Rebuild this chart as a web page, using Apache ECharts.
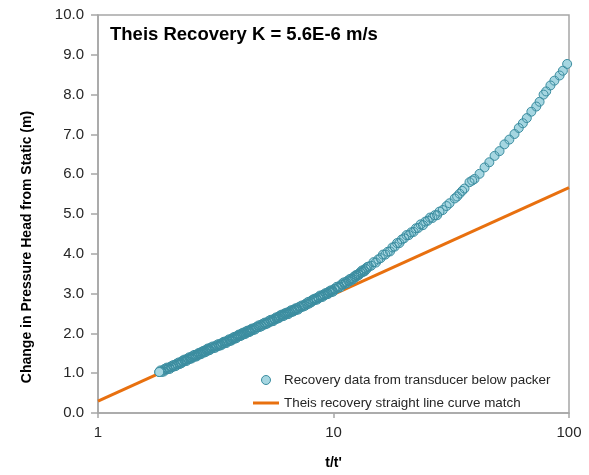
<!DOCTYPE html>
<html>
<head>
<meta charset="utf-8">
<script src="https://cdn.jsdelivr.net/npm/echarts@6/dist/echarts.min.js"></script>
<style>
html,body{margin:0;padding:0;background:#fff;}
#c{width:589px;height:475px;}
</style>
</head>
<body>
<div id="c"></div>
<script>
// t/t' values of the recovery data, ascending
var tRatio = [
  1.82, 1.84, 1.86, 1.88, 1.90, 1.92, 1.94, 1.96, 1.98, 2.00,
  2.02, 2.04, 2.06, 2.08, 2.10, 2.12, 2.14, 2.16, 2.18, 2.20, 2.22, 2.24,
  2.26, 2.28, 2.30, 2.32, 2.34, 2.36, 2.38, 2.40, 2.42, 2.44, 2.46, 2.48, 2.50,
  2.52, 2.54, 2.56, 2.58, 2.60, 2.62, 2.64, 2.66, 2.68, 2.70, 2.72, 2.74,
  2.76, 2.78, 2.80, 2.82, 2.84, 2.86, 2.88, 2.90, 2.92, 2.94, 2.96, 2.98, 3.00,
  3.03, 3.06, 3.09, 3.12, 3.15, 3.18, 3.21, 3.24, 3.27, 3.30, 3.33, 3.36, 3.39, 3.42, 3.45, 3.48,
  3.51, 3.54, 3.57, 3.60, 3.63, 3.66, 3.69, 3.72, 3.75, 3.78, 3.81, 3.84, 3.87, 3.90, 3.93, 3.96, 3.99,
  4.02, 4.05, 4.08, 4.11, 4.14, 4.17, 4.20, 4.23, 4.26, 4.29, 4.32, 4.35, 4.38, 4.41, 4.44, 4.47, 4.50,
  4.55, 4.60, 4.65, 4.70, 4.75, 4.80, 4.85, 4.90, 4.95, 5.00,
  5.05, 5.10, 5.15, 5.20, 5.25, 5.30, 5.35, 5.40, 5.45, 5.50,
  5.55, 5.60, 5.65, 5.70, 5.75, 5.80, 5.85, 5.90, 5.95, 6.00,
  6.05, 6.10, 6.15, 6.20, 6.25, 6.30, 6.35, 6.40, 6.45, 6.50,
  6.55, 6.60, 6.65, 6.70, 6.75, 6.80, 6.85, 6.90, 6.95, 7.00,
  7.08, 7.16, 7.24, 7.32, 7.40, 7.48, 7.56, 7.64, 7.72, 7.80, 7.88, 7.96, 8.04,
  8.12, 8.20, 8.28, 8.36, 8.44, 8.52, 8.60, 8.68, 8.76, 8.84, 8.92, 9.00,
  9.08, 9.16, 9.24, 9.32, 9.40, 9.48, 9.56, 9.64, 9.72, 9.80, 9.88, 9.96,
  10.08, 10.20, 10.32, 10.44, 10.56, 10.68, 10.80, 10.92, 11.04, 11.16, 11.28,
  11.40, 11.52, 11.64, 11.76, 11.88, 12.00, 12.12, 12.24, 12.36, 12.48, 12.60,
  12.72, 12.84, 12.96, 13.08, 13.20, 13.32, 13.44, 13.56, 13.68, 13.80, 13.92,
  14.13, 14.45, 14.79, 15.14, 15.49, 15.85, 16.22, 16.60, 16.98, 17.38, 17.78,
  18.20, 18.62, 19.05, 19.50, 19.95, 20.42, 20.89, 21.38, 21.88, 22.39,
  22.91, 23.44, 23.99, 24.55, 25.12, 25.70, 26.30, 26.92, 27.54, 28.18,
  29.1, 30.2, 31.1, 32.7, 33.5, 34.3, 35.2, 36.0, 37.8, 38.8,
  39.7, 41.7, 43.8, 45.9, 48.3, 50.7, 53.2, 55.8, 58.7, 61.2,
  63.7, 66.2, 69.2, 72.6, 75.0, 78.0, 80.0, 83.4, 86.7, 91.2,
  94.2, 98.2
];
// change in pressure head from static (m), matching tRatio
var headChange = [
  1.03, 1.07, 1.03, 1.07, 1.04, 1.11, 1.09, 1.14, 1.10, 1.14,
  1.11, 1.17, 1.15, 1.20, 1.17, 1.21, 1.18, 1.24, 1.22, 1.27, 1.23, 1.27,
  1.25, 1.31, 1.29, 1.34, 1.30, 1.34, 1.31, 1.37, 1.35, 1.40, 1.36, 1.40, 1.37,
  1.43, 1.41, 1.46, 1.42, 1.45, 1.42, 1.48, 1.46, 1.51, 1.47, 1.51, 1.48,
  1.54, 1.52, 1.56, 1.52, 1.56, 1.53, 1.59, 1.57, 1.62, 1.57, 1.61, 1.58, 1.64,
  1.62, 1.67, 1.63, 1.67, 1.64, 1.70, 1.68, 1.73, 1.69, 1.73, 1.70, 1.76, 1.74, 1.79, 1.75, 1.79,
  1.76, 1.82, 1.80, 1.85, 1.81, 1.85, 1.82, 1.88, 1.86, 1.91, 1.87, 1.91, 1.88, 1.94, 1.92, 1.97, 1.93,
  1.97, 1.94, 2.00, 1.97, 2.02, 1.98, 2.02, 1.99, 2.05, 2.02, 2.07, 2.03, 2.07, 2.04, 2.09, 2.07, 2.12,
  2.08, 2.13, 2.10, 2.16, 2.15, 2.20, 2.16, 2.21, 2.18, 2.24,
  2.22, 2.27, 2.23, 2.27, 2.25, 2.31, 2.29, 2.34, 2.30, 2.34,
  2.31, 2.37, 2.35, 2.40, 2.37, 2.41, 2.38, 2.44, 2.42, 2.47,
  2.43, 2.47, 2.44, 2.50, 2.48, 2.52, 2.48, 2.52, 2.49, 2.55,
  2.53, 2.58, 2.54, 2.58, 2.55, 2.60, 2.58, 2.63, 2.59, 2.63,
  2.60, 2.67, 2.65, 2.70, 2.67, 2.71, 2.69, 2.75, 2.73, 2.79, 2.75, 2.80, 2.78,
  2.84, 2.82, 2.87, 2.84, 2.88, 2.85, 2.91, 2.89, 2.95, 2.91, 2.95, 2.92,
  2.98, 2.96, 3.01, 2.98, 3.02, 2.99, 3.05, 3.03, 3.08, 3.04, 3.08, 3.05,
  3.12, 3.11, 3.17, 3.14, 3.18, 3.16, 3.23, 3.22, 3.28, 3.24, 3.29,
  3.26, 3.33, 3.31, 3.37, 3.33, 3.38, 3.36, 3.43, 3.41, 3.47, 3.44,
  3.49, 3.47, 3.53, 3.52, 3.58, 3.54, 3.59, 3.56, 3.63, 3.61, 3.67,
  3.68, 3.70, 3.79, 3.78, 3.86, 3.89, 3.98, 3.98, 4.05, 4.06, 4.16,
  4.18, 4.27, 4.27, 4.36, 4.39, 4.47, 4.47, 4.54, 4.55, 4.64,
  4.65, 4.74, 4.72, 4.81, 4.83, 4.91, 4.90, 4.97, 4.97, 5.06,
  5.10, 5.20, 5.27, 5.39, 5.44, 5.51, 5.58, 5.64, 5.80, 5.84,
  5.88, 6.01, 6.17, 6.30, 6.46, 6.58, 6.75, 6.87, 7.01, 7.16,
  7.28, 7.41, 7.57, 7.70, 7.82, 8.00, 8.08, 8.23, 8.35, 8.48,
  8.60, 8.77
];
// Theis recovery straight line (end points)
var lineT = [1, 100];
var lineHead = [0.30, 5.66];

var yTicks = [0, 1, 2, 3, 4, 5, 6, 7, 8, 9, 10];
var xTickLabels = ['1', '10', '100'];

var seriesNames = ['Recovery data from transducer below packer', 'Theis recovery straight line curve match'];
var titleText = 'Theis Recovery K = 5.6E-6 m/s';
var xName = "t/t'";
var yName = 'Change in Pressure Head from Static (m)';

// recorded chronologically: late-time (small t/t') points come last
var scatterData = tRatio.map(function (t, i) { return [t, headChange[i]]; }).reverse();
var lastPoint = [scatterData[scatterData.length - 1]];
var lineData = lineT.map(function (t, i) { return [t, lineHead[i]]; });

var axisGray = '#a6a6a6';
var txt = '#262626';
var font = 'Liberation Sans, Arial, sans-serif';
var mFill = '#a5d6e1';
var mBorder = '#3b8da0';
var mSize = 9;

var chart = echarts.init(document.getElementById('c'), null, {renderer: 'canvas'});
chart.setOption({
  animation: false,
  backgroundColor: '#fff',
  textStyle: {fontFamily: font},
  title: {
    text: titleText,
    left: 105, top: 20,
    textStyle: {fontSize: 18.5, fontWeight: 'bold', color: '#000', fontFamily: font}
  },
  grid: {
    left: 98, right: 20, top: 15, bottom: 55,
    show: true, borderColor: axisGray, borderWidth: 1.5, backgroundColor: 'transparent'
  },
  legend: {
    orient: 'vertical',
    left: 248, top: 367,
    itemWidth: 26, itemHeight: 9, itemGap: 7,
    selectedMode: false,
    textStyle: {fontSize: 13.4, color: txt, fontFamily: font, lineHeight: 16},
    data: [
      {name: seriesNames[0], icon: 'circle', itemStyle: {color: mFill, borderColor: mBorder, borderWidth: 1}},
      {name: seriesNames[1], icon: 'path://M0,0H26V3H0Z'}
    ]
  },
  xAxis: {
    type: 'log', logBase: 10, min: 1, max: 100,
    name: xName, nameLocation: 'middle', nameGap: 43,
    nameTextStyle: {fontSize: 14, fontWeight: 'bold', color: '#000', fontFamily: font},
    axisLine: {show: true, lineStyle: {color: axisGray, width: 1.5}},
    axisTick: {show: true, inside: false, length: 5, lineStyle: {color: axisGray, width: 1.5}},
    minorTick: {show: false},
    splitLine: {show: false},
    axisLabel: {
      fontSize: 15, color: txt, margin: 12, fontFamily: font,
      formatter: function (v) {
        var idx = Math.round(Math.log10(v));
        return xTickLabels[idx] !== undefined ? xTickLabels[idx] : '';
      }
    }
  },
  yAxis: {
    type: 'value', min: yTicks[0], max: yTicks[yTicks.length - 1], interval: 1,
    axisLine: {show: true, lineStyle: {color: axisGray, width: 1.5}},
    axisTick: {show: true, inside: false, length: 7, lineStyle: {color: axisGray, width: 1.5}},
    splitLine: {show: false},
    axisLabel: {
      fontSize: 15, color: txt, margin: 14, fontFamily: font,
      formatter: function (v) { return v.toFixed(1); }
    }
  },
  graphic: [{
    type: 'text',
    x: 27, y: 247,
    rotation: Math.PI / 2,
    style: {
      text: yName,
      font: 'bold 14px ' + font,
      fill: '#000',
      textAlign: 'center',
      textVerticalAlign: 'middle'
    }
  }],
  series: [
    {
      name: seriesNames[1],
      type: 'line',
      data: lineData,
      symbol: 'none',
      z: 2,
      lineStyle: {color: '#e8700f', width: 3},
      itemStyle: {color: '#e8700f'},
      emphasis: {disabled: true}
    },
    {
      // marker fills
      name: seriesNames[0],
      type: 'scatter',
      data: scatterData,
      symbol: 'circle',
      symbolSize: mSize,
      z: 3,
      itemStyle: {color: mFill, borderWidth: 0, opacity: 1},
      emphasis: {disabled: true}
    },
    {
      // marker outlines (overlapping outlines give the dense dark band)
      name: 'outline',
      type: 'scatter',
      data: scatterData,
      symbol: 'circle',
      symbolSize: mSize,
      z: 4,
      itemStyle: {color: 'rgba(0,0,0,0)', borderColor: mBorder, borderWidth: 1, opacity: 1},
      emphasis: {disabled: true}
    },
    {
      // the final (smallest t/t') reading drawn on top
      name: 'last',
      type: 'scatter',
      data: lastPoint,
      symbol: 'circle',
      symbolSize: mSize,
      z: 5,
      itemStyle: {color: mFill, borderColor: mBorder, borderWidth: 1, opacity: 1},
      emphasis: {disabled: true}
    }
  ]
});
</script>
</body>
</html>
